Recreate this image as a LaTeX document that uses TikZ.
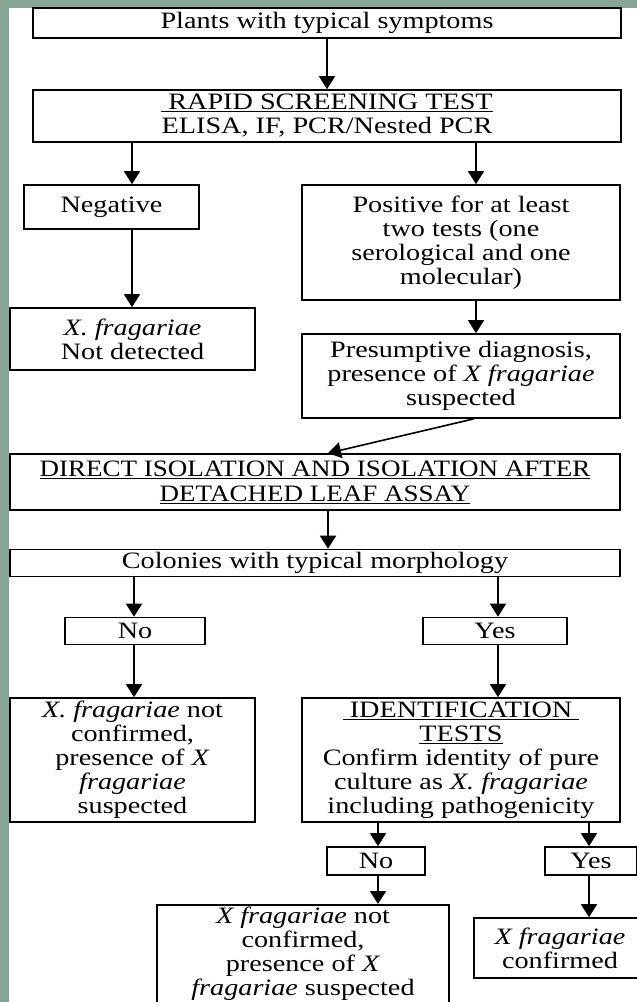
\documentclass[tikz,border=0pt]{standalone}
\usepackage{fontspec}
\setmainfont{Liberation Serif}[FakeStretch=1.2]
\newfontfamily\dirfont{Liberation Serif}[FakeStretch=1.15]
\usetikzlibrary{arrows.meta}
\definecolor{marble}{RGB}{136,164,148}
\begin{document}
\begin{tikzpicture}[x=1pt,y=-1pt,
  box/.style={draw=black, line width=1.6pt, fill=white, align=center, inner sep=0pt,
              font=\fontsize{23.5}{24}\selectfont},
  arr/.style={line width=1.6pt, -{Triangle[width=16pt,length=13pt]}}]
\useasboundingbox (0,0) rectangle (637,1002);
\fill[marble] (0,0) rectangle (637,1002);
\fill[white] (9,8) rectangle (637,1002);
% boxes
\node[box, minimum width=588pt, minimum height=30pt] (b1) at (327,23) {Plants with typical symptoms};
\node[box, minimum width=588pt, minimum height=52pt] (b2) at (327,116) {\underline{~RAPID SCREENING TEST}\\ELISA, IF, PCR/Nested PCR};
\node[box, minimum width=175pt, minimum height=44pt] (neg) at (111.5,207) {Negative};
\node[box, minimum width=318pt, minimum height=115pt] (pos) at (461,242.5) {Positive for at least\\two tests (one\\serological and one\\molecular)};
\node[box, minimum width=245pt, minimum height=62pt] (nd) at (132.5,339) {\textit{X. fragariae}\\Not detected};
\node[box, minimum width=318pt, minimum height=84pt] (pres) at (461,376) {Presumptive diagnosis,\\presence of \textit{X fragariae}\\suspected};
\node[box, minimum width=610pt, minimum height=56pt, font=\dirfont\fontsize{23.5}{25}\selectfont] (dir) at (315,482) {\underline{DIRECT ISOLATION AND ISOLATION AFTER}\\\underline{DETACHED LEAF ASSAY}};
\node[box, minimum width=610pt, minimum height=27pt] (col) at (315,563) {Colonies with typical morphology};
\node[box, minimum width=140pt, minimum height=27pt] (no) at (135,631) {No};
\node[box, minimum width=144pt, minimum height=27pt] (yes) at (495,631) {Yes};
\node[box, minimum width=245pt, minimum height=124pt] (nc) at (132.5,760) {\textit{X. fragariae} not\\confirmed,\\presence of \textit{X}\\\textit{fragariae}\\suspected};
\node[box, minimum width=318pt, minimum height=124pt] (id) at (461,760) {\underline{~IDENTIFICATION~}\\\underline{TESTS}\\Confirm identity of pure\\culture as \textit{X. fragariae}\\including pathogenicity};
\node[box, minimum width=98pt, minimum height=28pt] (no2) at (376,861) {No};
\node[box, minimum width=92pt, minimum height=28pt] (yes2) at (591,861) {Yes};
\node[box, anchor=north, inner ysep=2.5pt, text depth=30pt, minimum width=292pt] (fl) at (303,904) {\textit{X fragariae} not\\confirmed,\\presence of \textit{X}\\\textit{fragariae} suspected};
\node[box, minimum width=172pt, minimum height=60pt] (fr) at (560,948) {\textit{X fragariae}\\confirmed};
% arrow columns
\coordinate (xa) at (132,0);
\coordinate (xb) at (476,0);
\coordinate (xc) at (328,0);
\coordinate (xd) at (474,0);
\coordinate (xe) at (134,0);
\coordinate (xf) at (498,0);
\coordinate (xg) at (378,0);
\coordinate (xh) at (589,0);
% connectors
\draw[arr] (b1) -- (b2);
\draw[arr] (b2.south -| xa) -- (neg.north -| xa);
\draw[arr] (b2.south -| xb) -- (pos.north -| xb);
\draw[arr] (neg.south -| xa) -- (nd.north -| xa);
\draw[arr] (pos.south -| xb) -- (pres.north -| xb);
\draw[arr] (pres.south -| xd) -- (dir.north -| xc);
\draw[arr] (dir.south -| xc) -- (col.north -| xc);
\draw[arr] (col.south -| xe) -- (no.north -| xe);
\draw[arr] (col.south -| xf) -- (yes.north -| xf);
\draw[arr] (no.south -| xe) -- (nc.north -| xe);
\draw[arr] (yes.south -| xf) -- (id.north -| xf);
\draw[arr] (id.south -| xg) -- (no2.north -| xg);
\draw[arr] (id.south -| xh) -- (yes2.north -| xh);
\draw[arr] (no2.south -| xg) -- (fl.north -| xg);
\draw[arr] (yes2.south -| xh) -- (fr.north -| xh);
\end{tikzpicture}
\end{document}
